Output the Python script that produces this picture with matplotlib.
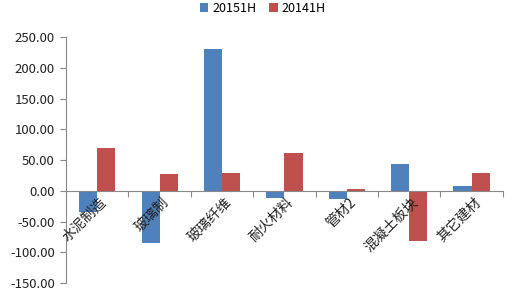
import matplotlib
matplotlib.use("Agg")
import matplotlib.pyplot as plt
import numpy as np

plt.rcParams['font.family'] = ['Noto Sans CJK SC', 'DejaVu Sans']

categories = ["水泥制造", "玻璃制", "玻璃纤维", "耐火材料", "管材2", "混凝土板块", "其它建材"]
series_names = ["20151H", "20141H"]
v2015 = [-34, -85.5, 231, -12, -13.5, 44, 8]
v2014 = [69, 28, 29, 61, 3, -82, 29]
yticks = [-150, -100, -50, 0, 50, 100, 150, 200, 250]

fig = plt.figure(figsize=(5.12, 2.94), dpi=100)
ax = fig.add_axes([0.129, 0.037, 0.853, 0.837])

x = np.arange(len(categories))
w = 0.29
ax.bar(x - w/2, v2015, w, color='#4F81BD', label=series_names[0], zorder=2)
ax.bar(x + w/2, v2014, w, color='#C0504D', label=series_names[1], zorder=2)

ax.set_ylim(-150, 250)
ax.set_xlim(-0.5, len(categories) - 0.5)
ax.set_yticks(yticks)
ax.set_yticklabels([f"{t:.2f}" for t in yticks], fontsize=9.5, color='#222222')

for s in ['top', 'right']:
    ax.spines[s].set_visible(False)
ax.spines['left'].set_color('#888888')
ax.spines['bottom'].set_color('#888888')
ax.spines['bottom'].set_position(('data', 0))
ax.tick_params(axis='y', length=4, color='#888888', pad=4)
ax.set_xticks(np.arange(len(categories) + 1) - 0.5)
ax.set_xticklabels([])
ax.tick_params(axis='x', length=4, color='#888888', direction='out')

for i, c in enumerate(categories):
    ax.text(i + 0.03, -7, c, rotation=45, ha='right', va='top', rotation_mode='anchor',
            fontsize=10, color='#222222')

leg = ax.legend(loc='upper center', bbox_to_anchor=(0.45, 1.19), ncol=2, frameon=False,
                fontsize=9, handlelength=0.7, handleheight=0.7, columnspacing=1.0,
                handletextpad=0.3)

fig.savefig("out.png", dpi=100)
